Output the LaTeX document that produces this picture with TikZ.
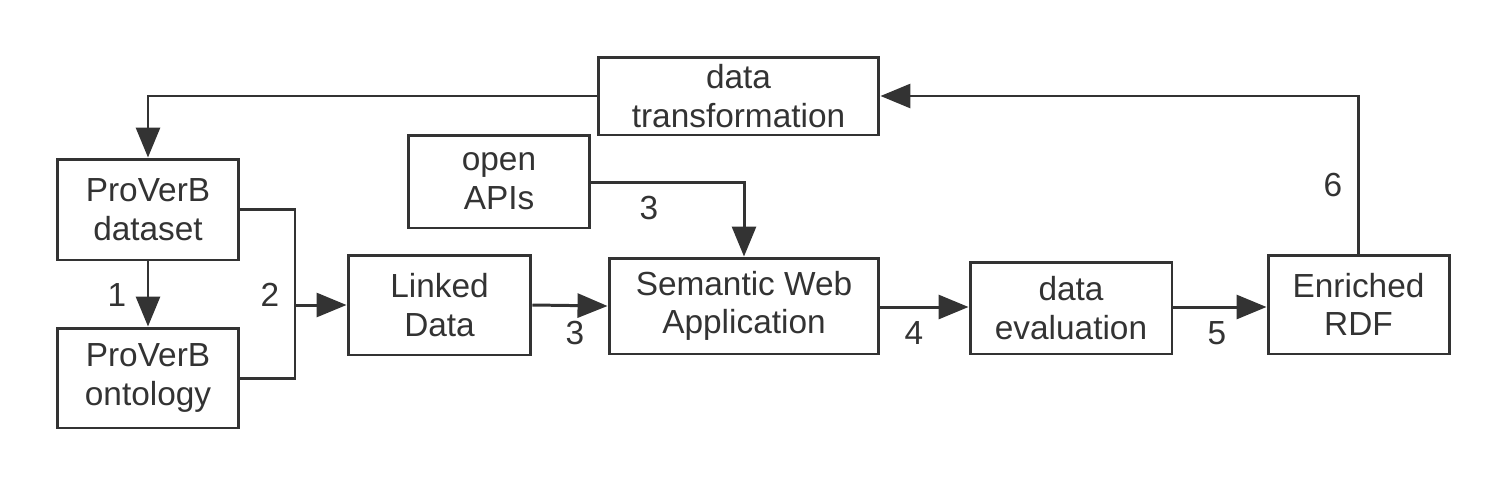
\documentclass[tikz,border=0pt]{standalone}
\usepackage{fontspec}
\setmainfont{Liberation Sans}
\usetikzlibrary{arrows.meta}
\definecolor{ink}{HTML}{333333}
\tikzset{
  box/.style={draw=ink, line width=1.7pt, text=ink, align=center, inner sep=0pt,
    font=\fontsize{19}{22}\selectfont},
  conn/.style={draw=ink, line width=1.7pt, -{Triangle[length=0.6cm,width=0.48cm]}},
  plain/.style={draw=ink, line width=1.7pt},
  lbl/.style={text=ink, font=\fontsize{19}{22}\selectfont, inner sep=0pt}
}
\begin{document}
\begin{tikzpicture}[x=0.02cm, y=-0.02cm]
\useasboundingbox (0,0) rectangle (1506,484);
% boxes
\node[box, minimum width=5.62cm, minimum height=1.56cm] (trans) at (738.5,96) {data\\transformation};
\node[box, minimum width=3.64cm, minimum height=1.86cm] (apis) at (499,181.5) {open\\APIs};
\node[box, minimum width=3.64cm, minimum height=2.02cm] (dataset) at (148,209.5) {ProVerB\\dataset};
\node[box, minimum width=3.64cm, minimum height=2.0cm] (onto) at (148,378) {ProVerB\\ontology};
\node[box, minimum width=3.66cm, minimum height=2.0cm] (linked) at (439.5,305) {Linked\\Data};
\node[box, minimum width=5.4cm, minimum height=1.92cm] (swa) at (744,306) {Semantic Web\\Application};
\node[box, minimum width=4.04cm, minimum height=1.84cm] (eval) at (1071,308) {data\\evaluation};
\node[box, minimum width=3.62cm, minimum height=1.98cm] (rdf) at (1358.5,304.5) {Enriched\\RDF};
% helper coordinates
\coordinate (j2) at (295,305);
% connectors
\draw[conn] (trans.west) -| (dataset.north);
\draw[conn] (rdf.north) |- (trans.east);
\draw[conn] (dataset.south) -- (onto.north);
\draw[plain] (dataset.east) -| (j2);
\draw[plain] (onto.east) -| (j2);
\draw[conn] (j2) -- (linked.west);
\draw[conn] (apis.east |- 0,182) -| (swa.north);
\draw[conn] (linked.east) -- (swa.west);
\draw[conn] (swa.east |- 0,307) -- (eval.west |- 0,307);
\draw[conn] (eval.east |- 0,307) -- (rdf.west |- 0,307);
% labels
\node[lbl] (l1) at (117,295) {1};
\node[lbl] (l2) at (270,295) {2};
\node[lbl] (l3a) at (649,208) {3};
\node[lbl] (l3b) at (575,333) {3};
\node[lbl] (l4) at (914,333) {4};
\node[lbl] (l5) at (1217,333) {5};
\node[lbl] (l6) at (1333,185) {6};
\end{tikzpicture}
\end{document}
